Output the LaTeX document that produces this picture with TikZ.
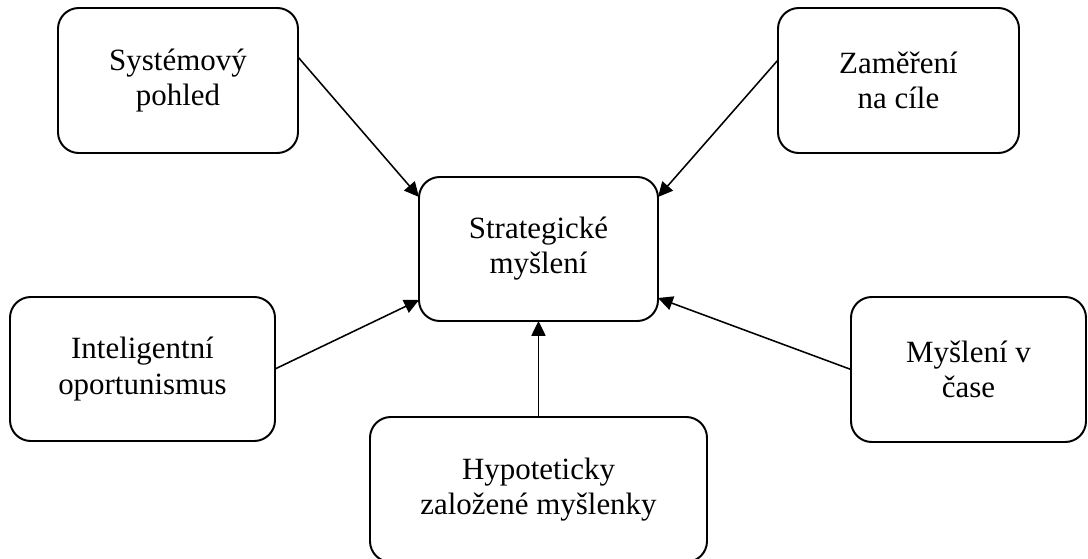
\documentclass[tikz,border=0pt]{standalone}
\usepackage{fontspec}
\setmainfont{Liberation Serif}
\usetikzlibrary{arrows.meta,calc}
\begin{document}
\begin{tikzpicture}[x=0.025cm,y=-0.025cm,
  box/.style={draw=black,line width=1.4pt,rounded corners=0.52cm,fill=white,
    align=center,inner sep=0pt,outer sep=0pt,
    font=\fontsize{22pt}{25pt}\selectfont},
  arr/.style={line width=1.1pt,-{Triangle[length=10.5pt,width=10pt]}}]
\useasboundingbox[fill=white] (0,0) rectangle (1088,559);
\node[box,minimum width=240*0.025cm,minimum height=145*0.025cm] (sys) at (178,80.5) {Systémový\\pohled};
\node[box,minimum width=241*0.025cm,minimum height=145*0.025cm] (zam) at (898.5,80.5) {Zaměření\\na cíle};
\node[box,minimum width=239*0.025cm,minimum height=144*0.025cm] (str) at (538.5,249) {Strategické\\myšlení};
\node[box,minimum width=265*0.025cm,minimum height=144*0.025cm] (int) at (142.5,369) {Inteligentní\\oportunismus};
\node[box,minimum width=235*0.025cm,minimum height=145*0.025cm] (mys) at (968.5,369.5) {Myšlení v\\čase};
\node[box,minimum width=337*0.025cm,minimum height=145*0.025cm] (hyp) at (538.5,489.5) {Hypoteticky\\založené myšlenky};
\draw[arr] ($(sys.east)+(0,-23.5)$) -- ($(str.west)+(0,-52)$);
\draw[arr] ($(zam.west)+(0,-20.5)$) -- ($(str.east)+(0,-52)$);
\draw[arr] (int.east) -- ($(str.west)+(0,51)$);
\draw[arr] (mys.west) -- ($(str.east)+(0,49)$);
\draw[arr] (hyp.north) -- (str.south);
\end{tikzpicture}
\end{document}
